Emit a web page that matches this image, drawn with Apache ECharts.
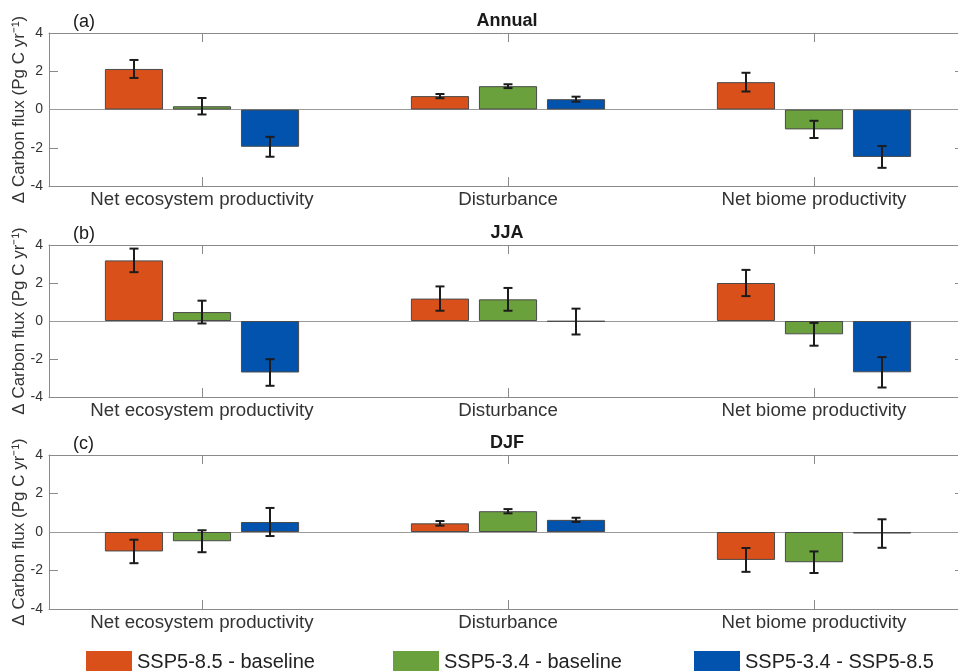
<!DOCTYPE html>
<html>
<head>
<meta charset="utf-8">
<script src="https://cdn.jsdelivr.net/npm/echarts@6/dist/echarts.min.js"></script>
<style>
html,body{margin:0;padding:0;background:#fff;}
#chart{width:958px;height:671px;}
</style>
</head>
<body>
<div id="chart"></div>
<script>
// ---------- data ----------
const categories = ['Net ecosystem productivity', 'Disturbance', 'Net biome productivity'];
const seriesNames = ['SSP5-8.5 - baseline', 'SSP5-3.4 - baseline', 'SSP5-3.4 - SSP5-8.5'];
const panelTitles = ['Annual', 'JJA', 'DJF'];
const panelLabels = ['(a)', '(b)', '(c)'];
const yTicks = [-4, -2, 0, 2, 4];

// Annual
const annual585 = [2.12, 0.70, 1.43];
const annual534 = [0.17, 1.22, -1.04];
const annualDiff = [-1.95, 0.54, -2.48];
const annual585Err = [0.47, 0.11, 0.49];
const annual534Err = [0.43, 0.10, 0.45];
const annualDiffErr = [0.52, 0.13, 0.57];
// JJA
const jja585 = [3.19, 1.18, 2.00];
const jja534 = [0.47, 1.14, -0.70];
const jjaDiff = [-2.71, -0.03, -2.70];
const jja585Err = [0.62, 0.64, 0.69];
const jja534Err = [0.60, 0.60, 0.60];
const jjaDiffErr = [0.70, 0.68, 0.80];
// DJF
const djf585 = [-1.01, 0.45, -1.45];
const djf534 = [-0.48, 1.08, -1.57];
const djfDiff = [0.52, 0.63, -0.08];
const djf585Err = [0.61, 0.12, 0.62];
const djf534Err = [0.57, 0.11, 0.56];
const djfDiffErr = [0.73, 0.11, 0.74];

const panelValues = [
  [annual585, annual534, annualDiff],
  [jja585, jja534, jjaDiff],
  [djf585, djf534, djfDiff]
];
const panelErrors = [
  [annual585Err, annual534Err, annualDiffErr],
  [jja585Err, jja534Err, jjaDiffErr],
  [djf585Err, djf534Err, djfDiffErr]
];

// ---------- styles ----------
const colors = ['#D9501A', '#6BA13C', '#0153AE'];
const FONT = 'Liberation Sans, Arial, Helvetica, sans-serif';
const axisColor = '#8a8a8a';
const textColor = '#333';
const grids = [
  {left: 49, top: 33, width: 918, height: 153, outerBoundsMode: 'none', containLabel: false},
  {left: 49, top: 245, width: 918, height: 152, outerBoundsMode: 'none', containLabel: false},
  {left: 49, top: 455, width: 918, height: 154, outerBoundsMode: 'none', containLabel: false}
];
const BAR_FRAC = 0.19;   // bar width as fraction of category band
const GAP_FRAC = 0.17;   // gap as fraction of bar width

const xAxes = [], yAxes = [], series = [], graphics = [];

grids.forEach((g, p) => {
  xAxes.push({
    type: 'category', gridIndex: p, data: categories, position: 'bottom',
    axisLine: {show: true, onZero: false, lineStyle: {color: axisColor, width: 1}},
    axisTick: {show: true, inside: true, alignWithLabel: true, length: 9, lineStyle: {color: axisColor}},
    axisLabel: {show: true, fontFamily: FONT, fontSize: 18.7, color: textColor, margin: 4},
    splitLine: {show: false}
  });
  xAxes.push({
    type: 'category', gridIndex: p, data: categories, position: 'top',
    axisLine: {show: true, onZero: false, lineStyle: {color: axisColor, width: 1}},
    axisTick: {show: true, inside: true, alignWithLabel: true, length: 9, lineStyle: {color: axisColor}},
    axisLabel: {show: false}, splitLine: {show: false}
  });
  yAxes.push({
    type: 'value', gridIndex: p, min: -4, max: 4, interval: 2, position: 'left',
    name: 'Δ Carbon flux (Pg C yr⁻¹)', nameLocation: 'middle', nameGap: 21,
    nameMoveOverlap: false,
    nameTextStyle: {fontFamily: FONT, fontSize: 17, color: textColor},
    axisLine: {show: true, onZero: false, lineStyle: {color: axisColor, width: 1}},
    axisTick: {show: true, inside: true, length: 9, lineStyle: {color: axisColor}},
    axisLabel: {fontFamily: FONT, fontSize: 14, color: textColor, margin: 6,
      formatter: v => (yTicks.indexOf(v) >= 0 ? String(v) : '')},
    splitLine: {show: false}
  });
  yAxes.push({
    type: 'value', gridIndex: p, min: -4, max: 4, interval: 2, position: 'right',
    axisLine: {show: true, onZero: false, lineStyle: {color: axisColor, width: 1}},
    axisTick: {show: true, inside: true, length: 12, lineStyle: {color: axisColor}},
    axisLabel: {show: false}, splitLine: {show: false}
  });

  const xi = 2 * p, yi = 2 * p;
  panelValues[p].forEach((vals, k) => {
    const s = {
      type: 'bar', name: seriesNames[k], xAxisIndex: xi, yAxisIndex: yi,
      data: vals, barWidth: (BAR_FRAC * 100) + '%', barGap: (GAP_FRAC * 100) + '%',
      itemStyle: {color: colors[k], borderColor: '#4a4a4a', borderWidth: 1},
      emphasis: {disabled: true}, silent: true, z: 2
    };
    if (k === 0) {
      s.markLine = {
        silent: true, symbol: 'none', label: {show: false},
        lineStyle: {color: '#9a9a9a', width: 1.2, type: 'solid'},
        data: [{yAxis: 0}], z: 1
      };
    }
    series.push(s);
  });

  // error bars
  const errData = [];
  categories.forEach((c, ci) => {
    for (let k = 0; k < 3; k++) {
      errData.push([ci, panelValues[p][k][ci], panelErrors[p][k][ci], k]);
    }
  });
  series.push({
    type: 'custom', xAxisIndex: xi, yAxisIndex: yi, silent: true, z: 5,
    data: errData,
    encode: {x: 0, y: 1},
    renderItem: function (params, api) {
      const ci = api.value(0), m = api.value(1), e = api.value(2), k = api.value(3);
      const band = api.size([1, 0])[0];
      const bw = band * BAR_FRAC;
      const off = (k - 1) * (bw + bw * GAP_FRAC);
      const top = api.coord([ci, m + e]);
      const bot = api.coord([ci, m - e]);
      const x = top[0] + off;
      const cap = 4.5;
      const st = {stroke: '#1c1c1c', lineWidth: 2};
      return {
        type: 'group',
        children: [
          {type: 'line', shape: {x1: x, y1: top[1], x2: x, y2: bot[1]}, style: st},
          {type: 'line', shape: {x1: x - cap, y1: top[1], x2: x + cap, y2: top[1]}, style: st},
          {type: 'line', shape: {x1: x - cap, y1: bot[1], x2: x + cap, y2: bot[1]}, style: st}
        ]
      };
    }
  });

  graphics.push({
    type: 'text', x: 507, y: g.top - 12,
    style: {text: panelTitles[p], fontFamily: FONT, fontSize: 18, fontWeight: 'bold',
      fill: '#1a1a1a', align: 'center', verticalAlign: 'middle'}
  });
  graphics.push({
    type: 'text', x: 73, y: g.top - 11,
    style: {text: panelLabels[p], fontFamily: FONT, fontSize: 18,
      fill: '#1a1a1a', align: 'left', verticalAlign: 'middle'}
  });
});

const legendLefts = [86, 393, 694];
const legends = seriesNames.map((n, k) => ({
  data: [n], left: legendLefts[k], top: 651, orient: 'horizontal',
  itemWidth: 46, itemHeight: 22, padding: 0, selectedMode: false,
  itemStyle: {borderWidth: 0},
  textStyle: {fontFamily: FONT, fontSize: 20, color: '#222', padding: [0, 0, 0, 0]},
  icon: 'rect'
}));

const chart = echarts.init(document.getElementById('chart'), null, {renderer: 'canvas'});
chart.setOption({
  animation: false,
  backgroundColor: '#fff',
  grid: grids,
  xAxis: xAxes,
  yAxis: yAxes,
  legend: legends,
  series: series,
  graphic: graphics
});
</script>
</body>
</html>
